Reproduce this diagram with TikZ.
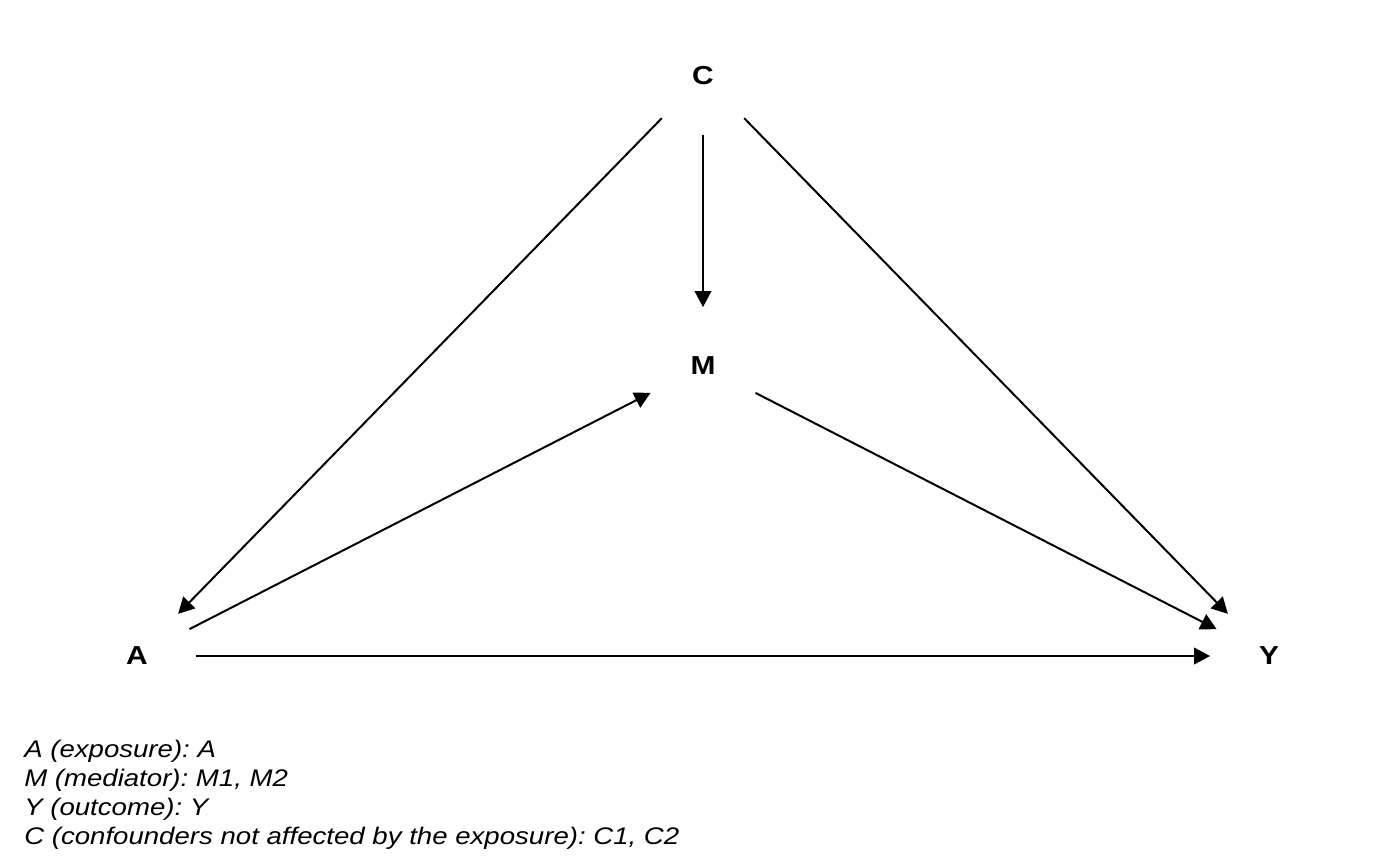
\documentclass[tikz,border=0pt]{standalone}
\usepackage{fontspec}
\setmainfont[FakeStretch=1.15]{Liberation Sans}
\usetikzlibrary{arrows.meta}
\begin{document}
\frenchspacing
\begin{tikzpicture}[x=0.75pt,y=-0.75pt,
  var/.style={circle,minimum size=88pt,inner sep=0pt,font=\fontsize{19.5}{23}\selectfont\bfseries},
  edge/.style={line width=1.5pt,-{Triangle[length=12pt,width=12.5pt]}},
  legend/.style={anchor=base west,inner sep=0pt,font=\fontsize{18}{21}\selectfont\itshape}]
\useasboundingbox (0,0) rectangle (1400,865);
\node[var] (C) at (703,76) {C};
\node[var] (M) at (703,366) {M};
\node[var] (A) at (137,656) {A};
\node[var] (Y) at (1269,656) {Y};
\draw[edge] (C) -- (A);
\draw[edge] (C) -- (M);
\draw[edge] (C) -- (Y);
\draw[edge] (A) -- (M);
\draw[edge] (M) -- (Y);
\draw[edge] (A) -- (Y);
\node[legend] (l1) at (24,757) {A (exposure): A};
\node[legend] (l2) at (24,786) {M (mediator): M1, M2};
\node[legend] (l3) at (24,815) {Y (outcome): Y};
\node[legend] (l4) at (24,844) {C (confounders not affected by the exposure): C1, C2};
\end{tikzpicture}
\end{document}
